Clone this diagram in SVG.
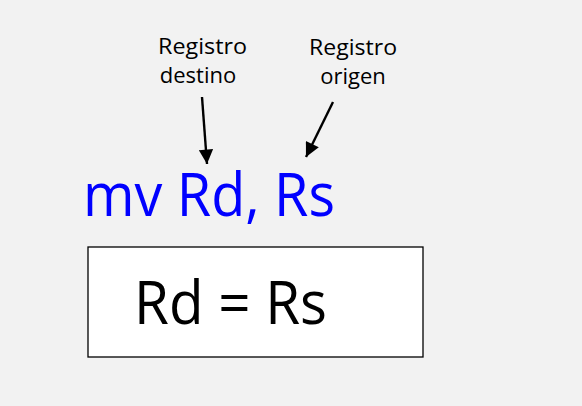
<svg xmlns="http://www.w3.org/2000/svg" width="582" height="406" viewBox="0 0 582 406">
<defs>
<marker id="ah" viewBox="0 0 10 10" refX="10" refY="5" markerWidth="8" markerHeight="6" markerUnits="strokeWidth" orient="auto">
<path d="M0,0 L10,5 L0,10 z" fill="#000"/>
</marker>
</defs>
<style>
.lbl{font-family:"Open Sans","Noto Sans",sans-serif;font-size:22px;fill:#000;text-anchor:middle}
.big{font-family:"Open Sans","Noto Sans",sans-serif;font-size:61px;text-anchor:start}
.conn{stroke:#000;stroke-width:2.4;fill:none;marker-end:url(#ah)}
</style>
<rect width="582" height="406" fill="#f2f2f2"/>
<g id="label-destino">
<text class="lbl" x="202.5" y="54" textLength="89" lengthAdjust="spacingAndGlyphs">Registro</text>
<text class="lbl" x="198" y="83">destino</text>
</g>
<g id="label-origen">
<text class="lbl" x="353" y="55" textLength="88" lengthAdjust="spacingAndGlyphs">Registro</text>
<text class="lbl" x="353" y="84">origen</text>
</g>
<g id="instruction">
<text class="big" x="83" y="216" fill="#0000ff" textLength="252" lengthAdjust="spacingAndGlyphs">mv Rd, Rs</text>
</g>
<g id="result">
<rect x="88" y="247" width="335" height="110" fill="#fff" stroke="#000" stroke-width="1.3"/>
<text class="big" x="134" y="324" fill="#000" textLength="193" lengthAdjust="spacingAndGlyphs">Rd = Rs</text>
</g>
<g id="connectors">
<line class="conn" x1="202" y1="97" x2="207" y2="164"/>
<line class="conn" x1="333" y1="102" x2="306" y2="157"/>
</g>
</svg>
